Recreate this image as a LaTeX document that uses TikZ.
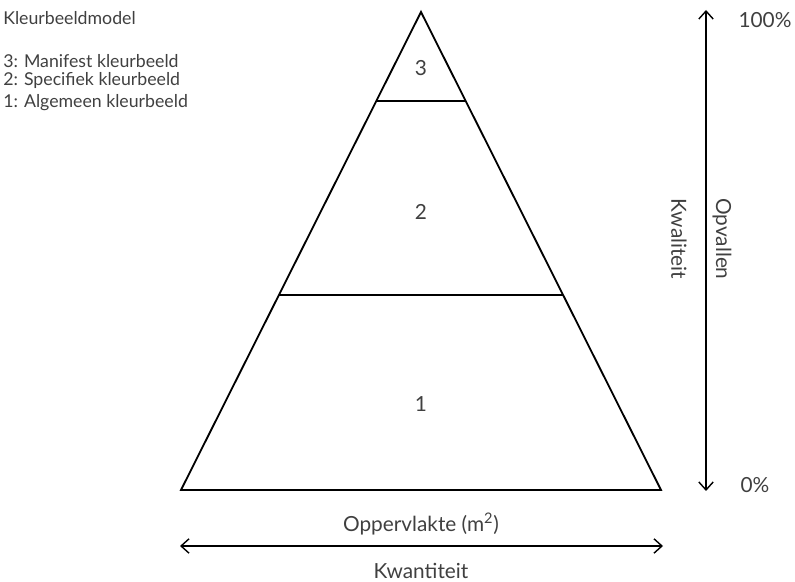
\documentclass[tikz,border=0pt]{standalone}
\usepackage{fontspec}
\setmainfont{Lato}
\usepackage{tikz}
\usetikzlibrary{arrows.meta, positioning, calc}

\begin{document}
\begin{tikzpicture}[
  x=0.025cm, y=-0.025cm,
  txt/.style={text=black!75, inner sep=0pt, font=\fontsize{14.8}{16}\selectfont},
  legend/.style={txt, anchor=west, font=\fontsize{12.6}{15}\selectfont},
  layer/.style={draw=black, line width=1.3pt, line join=miter},
  axis/.style={draw=black, line width=1pt, {Straight Barb[length=2mm,width=3.6mm]}-{Straight Barb[length=2mm,width=3.6mm]}},
]
\useasboundingbox (0,0) rectangle (795,582);

% piramide
\coordinate (top) at (421,12);
\coordinate (bl) at (181,490);
\coordinate (br) at (661,490);
\coordinate (l3a) at (376,101);
\coordinate (l3b) at (466,101);
\coordinate (l2a) at (279,295);
\coordinate (l2b) at (563,295);

\draw[layer] (bl) -- (top) -- (br) -- cycle;
\draw[layer] (l3a) -- (l3b);
\draw[layer] (l2a) -- (l2b);

\node[txt] (n3) at (421,68) {3};
\node[txt] (n2) at (421,212) {2};
\node[txt] (n1) at (421,404) {1};

% legenda
\node[legend] (title) at (3,18) {Kleurbeeldmodel};
\node[legend] (leg3) at (3,61) {3: Manifest kleurbeeld};
\node[legend] (leg2) at (3,81) {2: Specifiek kleurbeeld};
\node[legend] (leg1) at (3,103) {1: Algemeen kleurbeeld};

% verticale as
\coordinate (vtop) at (706,10);
\coordinate (vbot) at (706,491);
\draw[axis] (vbot) -- (vtop);
\node[txt] (hi) at (765,20) {100\%};
\node[txt] (lo) at (755,485) {0\%};
\node[txt, rotate=-90] (opv) at (722,239) {Opvallen};
\node[txt, rotate=-90] (kwal) at (679,239) {Kwaliteit};

% horizontale as
\coordinate (hl) at (180,546);
\coordinate (hr) at (663,546);
\draw[axis] (hl) -- (hr);
\node[txt] (opp) at (421,524) {Oppervlakte (m\textsuperscript{2})};
\node[txt] (kwan) at (421,571) {Kwantiteit};
\end{tikzpicture}
\end{document}
